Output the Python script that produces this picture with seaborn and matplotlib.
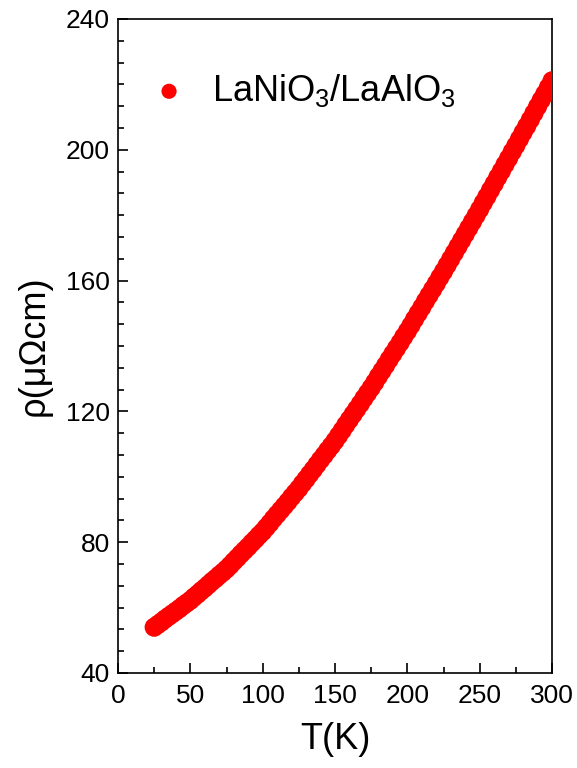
import matplotlib
matplotlib.use('Agg')
import matplotlib.pyplot as plt
from matplotlib.ticker import MultipleLocator, AutoMinorLocator
import seaborn as sns

# temperature (K) and resistivity (micro-ohm cm)
T_K = [25, 27.5, 30, 32.5, 35, 37.5, 40, 42.5, 45, 47.5,
       50, 52.5, 55, 57.5, 60, 62.5, 65, 67.5, 70, 72.5,
       75, 77.5, 80, 82.5, 85, 87.5, 90, 92.5, 95, 97.5,
       100, 102.5, 105, 107.5, 110, 112.5, 115, 117.5, 120, 122.5,
       125, 127.5, 130, 132.5, 135, 137.5, 140, 142.5, 145, 147.5,
       150, 152.5, 155, 157.5, 160, 162.5, 165, 167.5, 170, 172.5,
       175, 177.5, 180, 182.5, 185, 187.5, 190, 192.5, 195, 197.5,
       200, 202.5, 205, 207.5, 210, 212.5, 215, 217.5, 220, 222.5,
       225, 227.5, 230, 232.5, 235, 237.5, 240, 242.5, 245, 247.5,
       250, 252.5, 255, 257.5, 260, 262.5, 265, 267.5, 270, 272.5,
       275, 277.5, 280, 282.5, 285, 287.5, 290, 292.5, 295, 297.5,
       300]
rho = [54.0, 54.8, 55.6, 56.5, 57.3, 58.1, 58.9, 59.7, 60.6, 61.4,
       62.2, 63.2, 64.1, 65.1, 66.0, 67.0, 68.0, 68.9, 69.9, 70.8,
       71.8, 72.9, 74.1, 75.2, 76.4, 77.5, 78.6, 79.8, 80.9, 82.1,
       83.2, 84.5, 85.8, 87.2, 88.5, 89.8, 91.1, 92.4, 93.8, 95.1,
       96.4, 97.9, 99.3, 100.8, 102.2, 103.7, 105.2, 106.6, 108.1, 109.5,
       111.0, 112.6, 114.2, 115.9, 117.5, 119.1, 120.7, 122.3, 124.0, 125.6,
       127.2, 128.9, 130.7, 132.4, 134.1, 135.9, 137.6, 139.3, 141.0, 142.8,
       144.5, 146.3, 148.2, 150.0, 151.8, 153.7, 155.5, 157.3, 159.1, 161.0,
       162.8, 164.7, 166.6, 168.5, 170.4, 172.3, 174.2, 176.1, 178.0, 179.9,
       181.8, 183.8, 185.7, 187.7, 189.6, 191.6, 193.5, 195.5, 197.4, 199.4,
       201.3, 203.3, 205.3, 207.2, 209.2, 211.2, 213.2, 215.2, 217.1, 219.1,
       221.1]
sample = r'LaNiO$_3$/LaAlO$_3$'

sns.set_style('ticks')
plt.rcParams['font.family'] = ['Liberation Sans', 'DejaVu Sans']
plt.rcParams['mathtext.default'] = 'regular'
plt.rcParams['text.color'] = 'black'
plt.rcParams['axes.labelcolor'] = 'black'

fig = plt.figure(figsize=(5.77, 7.68), dpi=100)
ax = fig.add_axes([0.2045, 0.1237, 0.7522, 0.8516])

sns.scatterplot(x=T_K, y=rho, ax=ax, color='#ff0000', s=190,
                edgecolor='none', linewidth=0, label=sample, zorder=3)

ax.set_xlim(0, 300)
ax.set_ylim(40, 240)
ax.xaxis.set_major_locator(MultipleLocator(50))
ax.xaxis.set_minor_locator(AutoMinorLocator(2))
ax.yaxis.set_major_locator(MultipleLocator(40))
ax.yaxis.set_minor_locator(AutoMinorLocator(6))

ax.tick_params(which='both', direction='in', top=False, right=False,
               width=1.2, color='black', labelcolor='black', labelsize=19)
ax.tick_params(axis='x', which='major', length=7, pad=8)
ax.tick_params(axis='x', which='minor', length=4)
ax.tick_params(axis='y', which='major', length=7, pad=6)
ax.tick_params(axis='y', which='minor', length=4)

for sp in ax.spines.values():
    sp.set_visible(True)
    sp.set_linewidth(1.2)
    sp.set_color('black')

ax.set_xlabel('T(K)', fontsize=26, labelpad=10)
ax.set_ylabel('ρ(μΩcm)', fontsize=26, labelpad=10)

ax.legend(loc='center left', bbox_to_anchor=(0.076, 0.891), frameon=False,
          fontsize=26, markerscale=0.79, handlelength=1.0, handletextpad=0.7,
          borderpad=0, borderaxespad=0)

fig.savefig('out.png', dpi=100)
